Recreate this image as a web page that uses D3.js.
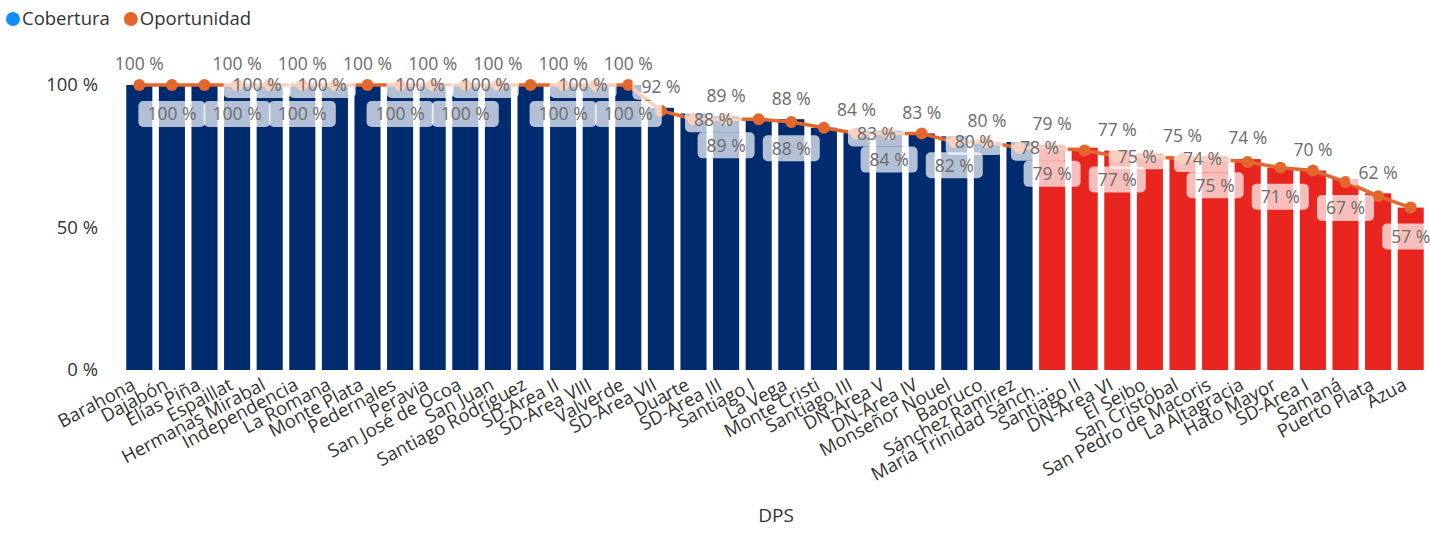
<!DOCTYPE html>
<html><head><meta charset="utf-8">
<script src="https://cdn.jsdelivr.net/npm/d3@7"></script>
<style>
html,body{margin:0;padding:0;background:#fff;}
svg{display:block;font-family:"Open Sans","Noto Sans",sans-serif;}
</style></head>
<body>
<svg id="chart" width="1430" height="533"></svg>
<script>
// ---------------- data ----------------
const categories = ["Barahona","Dajabón","Elías Piña","Espaillat","Hermanas Mirabal","Independencia","La Romana","Monte Plata","Pedernales","Peravia","San José de Ocoa","San Juan","Santiago Rodríguez","SD-Área II","SD-Área VIII","Valverde","SD-Área VII","Duarte","SD-Área III","Santiago I","La Vega","Monte Cristi","Santiago III","DN-Área V","DN-Área IV","Monseñor Nouel","Baoruco","Sánchez Ramirez","María Trinidad Sánchez","Santiago II","DN-Área VI","El Seibo","San Cristóbal","San Pedro de Macoris","La Altagracia","Hato Mayor","SD-Área I","Samaná","Puerto Plata","Azua"];
const cobertura = [1,1,1,1,1,1,1,1,1,1,1,1,1,1,1,1,0.92,0.90,0.89,0.88,0.88,0.85,0.84,0.84,0.83,0.82,0.80,0.80,0.79,0.78,0.77,0.76,0.75,0.75,0.74,0.71,0.70,0.67,0.62,0.57];
const oportunidad = [1,1,1,1,1,1,1,1,1,1,1,1,1,1,1,1,0.91,0.88,0.88,0.88,0.87,0.85,0.83,0.83,0.83,0.80,0.80,0.78,0.78,0.77,0.75,0.75,0.74,0.74,0.73,0.71,0.70,0.66,0.61,0.57];
const yTicks = [0, 0.5, 1];
const coberturaThreshold = 0.80;
// which data labels are visible in the reference (1-based category positions)
const coberturaLabelsAbove = [1,4,6,8,10,12,14,16,17,19,21,23,25,27,29,31,33,35,37,39];
const coberturaLabelsInside = [2,4,6,9,11,14,16,19,21,24,26,29,31,34,36,38,40];
const oportunidadLabelsRight = [4,6,9,11,14,18,23,26,28,31,33];
const seriesNames = ["Cobertura","Oportunidad"];

// ---------------- chart ----------------
const FONT = "'Open Sans','Noto Sans',sans-serif";
const svg = d3.select("#chart");
const x = d3.scaleBand().domain(categories).range([123, 1427]).paddingInner(0.2).paddingOuter(0.1);
const y = d3.scaleLinear().domain([0, 1]).range([370, 85]);
const NAVY = "#002b6e", RED = "#e8261f", ORANGE = "#e3672d";
const pct = v => Math.round(v * 100) + " %";

// legend
const legend = svg.append("g").attr("transform", "translate(0,19)");
const legColors = ["#118dff", ORANGE];
let lx = 13;
seriesNames.forEach((n, i) => {
  legend.append("circle").attr("cx", lx).attr("cy", 0).attr("r", 7).attr("fill", legColors[i]);
  const t = legend.append("text").attr("x", lx + 9).attr("y", 0).attr("dy", "0.35em")
    .attr("font-size", 18.5).attr("fill", "#333").text(n);
  lx += 9 + t.node().getComputedTextLength() + 21;
});

// y axis
const yAxis = svg.append("g").attr("transform", "translate(98,0)")
  .call(d3.axisLeft(y).tickValues(yTicks).tickSize(0).tickPadding(0).tickFormat(d => Math.round(d * 100) + " %"));
yAxis.select(".domain").remove();
yAxis.selectAll("text").attr("font-size", 18.5).attr("fill", "#333").attr("font-family", FONT);

// bars
svg.append("g").selectAll("rect").data(categories).join("rect")
  .attr("x", d => x(d)).attr("width", x.bandwidth())
  .attr("y", (d, i) => y(cobertura[i])).attr("height", (d, i) => y(0) - y(cobertura[i]))
  .attr("fill", (d, i) => cobertura[i] < coberturaThreshold ? RED : NAVY);

// line
const cx = d => x(d) + x.bandwidth() / 2;
const line = d3.line().x((d, i) => cx(categories[i])).y(d => y(d));
svg.append("path").datum(oportunidad).attr("d", line)
  .attr("fill", "none").attr("stroke", ORANGE).attr("stroke-width", 3.5);
svg.append("g").selectAll("circle").data(oportunidad).join("circle")
  .attr("cx", (d, i) => cx(categories[i])).attr("cy", d => y(d)).attr("r", 6).attr("fill", ORANGE);

// x axis
const xAxis = svg.append("g").attr("transform", "translate(0,372)")
  .call(d3.axisBottom(x).tickSize(0).tickPadding(0)
    .tickFormat(d => d.length > 21 ? d.slice(0, 20) + "..." : d));
xAxis.select(".domain").remove();
xAxis.selectAll("text").attr("font-size", 18.5).attr("fill", "#333")
  .attr("font-family", FONT)
  .attr("text-anchor", "end").attr("dy", "0.72em")
  .attr("transform", "translate(-9,5) rotate(-28)");

// axis title
svg.append("text").attr("x", 776).attr("y", 522).attr("text-anchor", "middle")
  .attr("font-size", 19).attr("fill", "#333").text("DPS");

// data labels
const labels = svg.append("g");
function addLabel(px, py, txt) {
  const g = labels.append("g");
  const t = g.append("text").attr("x", px).attr("y", py).attr("dy", "0.36em")
    .attr("text-anchor", "middle").attr("font-size", 17.5).attr("fill", "#6b6b6b").text(txt);
  const w = t.node().getComputedTextLength() + 18;
  g.insert("rect", "text").attr("x", px - w / 2).attr("y", py - 13).attr("width", w).attr("height", 26)
    .attr("rx", 5).attr("fill", "#fff").attr("fill-opacity", 0.7);
}
coberturaLabelsAbove.forEach(k => addLabel(cx(categories[k - 1]), y(cobertura[k - 1]) - 21, pct(cobertura[k - 1])));
oportunidadLabelsRight.forEach(k => addLabel(cx(categories[k - 1]) + 20, y(oportunidad[k - 1]), pct(oportunidad[k - 1])));
coberturaLabelsInside.forEach(k => addLabel(cx(categories[k - 1]), y(cobertura[k - 1]) + 29, pct(cobertura[k - 1])));
</script>
</body></html>
